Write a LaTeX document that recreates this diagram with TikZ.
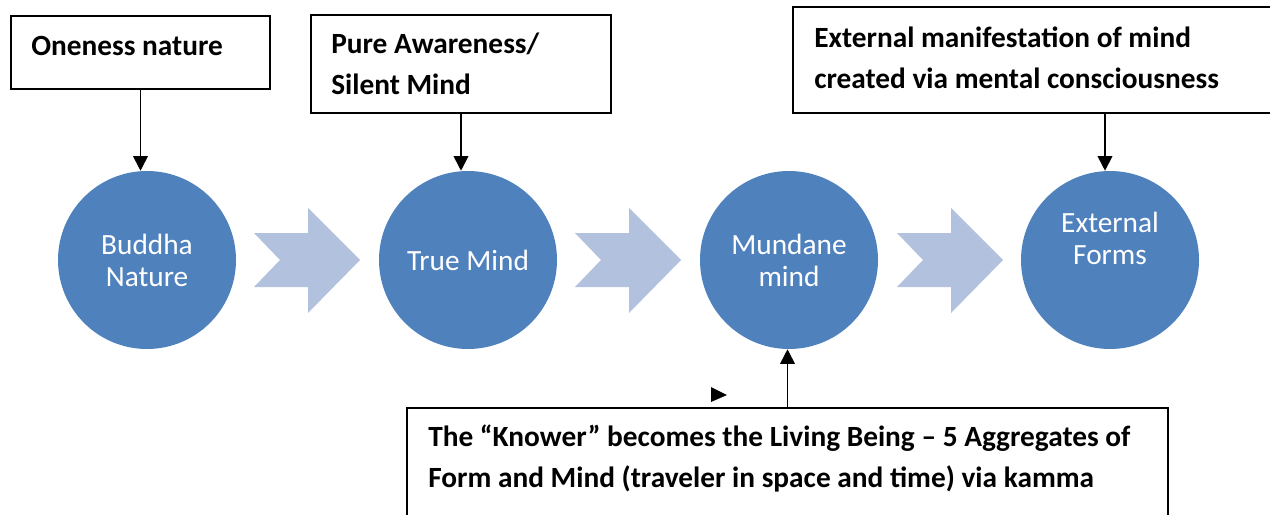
\documentclass[tikz,border=0pt]{standalone}
\usepackage{fontspec}
\setmainfont{Carlito}
\usetikzlibrary{arrows.meta}
\usetikzlibrary{calc}
\definecolor{circblue}{RGB}{79,129,189}
\definecolor{chevblue}{RGB}{178,193,222}
\tikzset{
  bubbletext/.style={text=white,align=center,inner sep=0pt,font=\fontsize{22}{24}\selectfont},
  bubble/.style={bubbletext,circle,fill=circblue,minimum size=133.5pt},
  notebox/.style={draw,line width=1.2pt,inner sep=0pt},
  notetext/.style={anchor=base west,inner sep=0pt,align=left,font=\fontsize{22}{30.75}\selectfont\bfseries},
  pointer/.style={line width=1.3pt,-{Triangle[width=11pt,length=11pt]}}
}
\begin{document}
\begin{tikzpicture}[x=0.75pt,y=0.75pt,yscale=-1,xscale=1]
\useasboundingbox (0,0) rectangle (1270,514);
\clip (0,0) rectangle (1270,514);

%Shape: Circle
\node[bubble] (buddha) at (147,260) {Buddha\\Nature};
%Shape: Circle
\node[bubble] (truemind) at (468,260) {True Mind};
%Shape: Circle
\node[bubble] (mundane) at (789,260) {Mundane\\mind};
%Shape: Circle
\node[bubble] (extforms) at (1110,260) {};
% Text Node
\node[bubbletext] (extlabel) at ($(extforms.center)+(0,-22)$) {External\\Forms};

%Shape: Chevron arrows
\foreach \cx in {254,575,897}
  \fill[chevblue] (\cx,233) -- ++(54,0) -- ++(0,-25) -- (\cx+106,260) -- (\cx+54,313) -- ++(0,-26) -- (\cx,287) -- (\cx+26,260) -- cycle;

%Shape: Rectangle
\node[notebox,minimum width=194.25pt,minimum height=54.75pt] (oneness) at (140.5,52.5) {};
% Text Node (base = last line)
\node[notetext] (onenesstext) at (31,55) {Oneness nature};
%Shape: Rectangle
\node[notebox,minimum width=225pt,minimum height=73.5pt] (pure) at (461,64) {};
% Text Node
\node[notetext] (puretext) at (331,94) {Pure Awareness/\\Silent Mind};
%Shape: Rectangle
\node[notebox,minimum width=468pt,minimum height=79.5pt] (extmind) at (1105,60) {};
% Text Node
\node[notetext] (extmindtext) at (814,88) {External manifestation of mind\\created via mental consciousness};
%Shape: Rectangle
\node[notebox,minimum width=570.75pt,minimum height=114pt] (knower) at (787.5,484) {};
% Text Node
\node[notetext] (knowertext) at (428,487) {The “Knower” becomes the Living Being – 5 Aggregates of\\Form and Mind (traveler in space and time) via kamma};

%Straight Lines
\draw[pointer] (oneness.south) -- (oneness.south |- buddha.north);
\draw[pointer] (pure.south) -- (pure.south |- truemind.north);
\draw[pointer] (extmind.south) -- (extmind.south |- extforms.north);
\draw[pointer] (knower.north) -- (knower.north |- mundane.south);

%Shape: Triangle
\fill (711,387) -- (727,395) -- (711,402) -- cycle;

\end{tikzpicture}
\end{document}
